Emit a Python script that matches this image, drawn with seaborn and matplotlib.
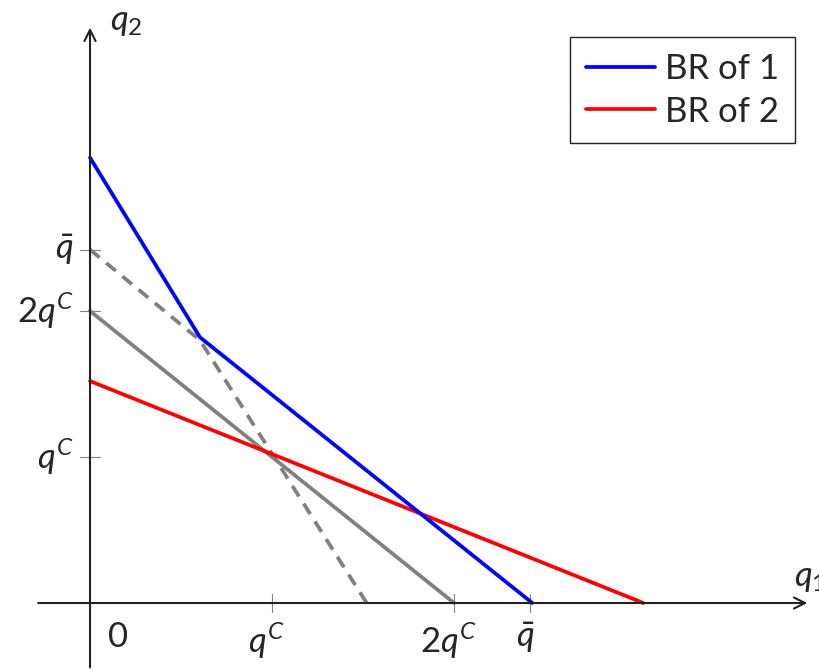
import numpy as np
import pandas as pd
import seaborn as sns
import matplotlib.pyplot as plt

# units of q^C = 1
qbar = 2.42
br1_x = [0.0, 0.604, 2.43]
br1_y = [3.05, 1.82, 0.0]
br2_x = [0.0, 3.04]
br2_y = [1.52, 0.0]
gray_x = [0.0, 2.0]
gray_y = [2.0, 0.0]
dash_x = [0.0, 0.604, 1.52]
dash_y = [2.42, 1.80, 0.0]

xticks = [1.0, 2.0, qbar]
xticklabels = [r'$q^C$', r'$2q^C$', r'$\bar{q}$']
yticks = [1.0, 2.0, qbar]
yticklabels = [r'$q^C$', r'$2q^C$', r'$\bar{q}$']

sns.set_style('white')
plt.rcParams['font.family'] = ['Lato', 'DejaVu Sans']
plt.rcParams['mathtext.fontset'] = 'custom'
plt.rcParams['mathtext.rm'] = 'Lato'
plt.rcParams['mathtext.it'] = 'Lato:italic'

fig = plt.figure(figsize=(8.19, 6.69), dpi=100)
ax = fig.add_axes([0, 0, 1, 1])
ax.set_xlim(-0.4945, 4.005)
ax.set_ylim(-0.452, 4.13)
ax.axis('off')

fs = 25
gray = '#808080'

# axes with arrows
ax.annotate('', xy=(3.956, 0), xytext=(-0.30, 0),
            arrowprops=dict(arrowstyle='->', lw=1.5, color='#222222', mutation_scale=20))
ax.annotate('', xy=(0, 3.96), xytext=(0, -0.46),
            arrowprops=dict(arrowstyle='->', lw=1.5, color='#222222', mutation_scale=20))
ax.text(3.87, 0.06, r'$q_1$', fontsize=fs, ha='left', va='bottom')
ax.text(0.11, 3.98, r'$q_2$', fontsize=fs, ha='left', va='center')

# tick marks
for t in xticks:
    ax.plot([t, t], [-0.06, 0.06], color=gray, lw=0.8)
for t in yticks:
    ax.plot([-0.055, 0.055], [t, t], color=gray, lw=0.8)
for t, lab in zip(xticks, xticklabels):
    ax.text(t - 0.03, -0.12, lab, fontsize=fs, ha='center', va='top')
ax.text(0.155, -0.12, '0', fontsize=fs, ha='center', va='top')
for t, lab in zip(yticks, yticklabels):
    ax.text(-0.09, t, lab, fontsize=fs, ha='right', va='center')

lw = 2.7
sns.lineplot(x=gray_x, y=gray_y, ax=ax, color=gray, lw=lw, sort=False)
sns.lineplot(x=dash_x, y=dash_y, ax=ax, color=gray, lw=lw, sort=False)
ax.lines[-1].set_dashes((3.3, 2.3))
sns.lineplot(x=br2_x, y=br2_y, ax=ax, color='#ff0000', lw=lw, sort=False, label='BR of 2')
sns.lineplot(x=br1_x, y=br1_y, ax=ax, color='#0000ff', lw=lw, sort=False, label='BR of 1')

h, l = ax.get_legend_handles_labels()
leg = ax.legend(h[::-1], l[::-1], loc='upper right', bbox_to_anchor=(0.971, 0.944),
                fontsize=fs, frameon=True, fancybox=False, framealpha=1,
                edgecolor='#222222', handlelength=2.0, handletextpad=0.3,
                borderpad=0.45, labelspacing=0.3, borderaxespad=0)
leg.get_frame().set_linewidth(1.0)

fig.savefig('out.png', dpi=100)
